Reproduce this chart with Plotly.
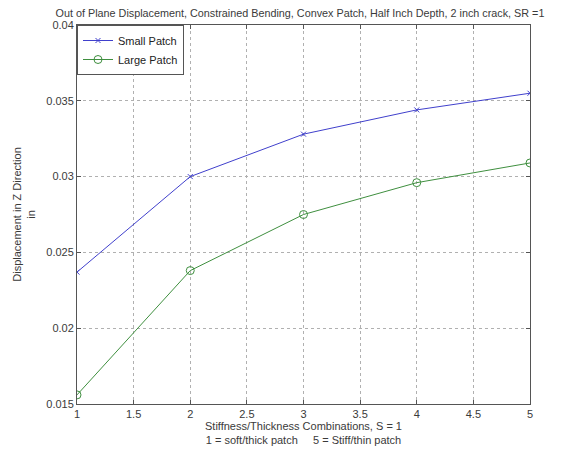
import plotly.graph_objects as go

x_vals = [1, 2, 3, 4, 5]
small_patch = [0.0237, 0.0300, 0.0328, 0.0344, 0.0355]
large_patch = [0.0156, 0.0238, 0.0275, 0.0296, 0.0309]
x_ticks = [1, 1.5, 2, 2.5, 3, 3.5, 4, 4.5, 5]
x_tick_labels = ["1", "1.5", "2", "2.5", "3", "3.5", "4", "4.5", "5"]
y_ticks = [0.015, 0.02, 0.025, 0.03, 0.035, 0.04]
y_tick_labels = ["0.015", "0.02", "0.025", "0.03", "0.035", "0.04"]

font = "Liberation Sans, Arial, sans-serif"
txt = "#3a3a3a"

fig = go.Figure()
fig.add_trace(go.Scatter(
    x=x_vals, y=small_patch, name="Small Patch", mode="lines+markers",
    line=dict(color="#4040cc", width=1),
    marker=dict(symbol="x-thin", size=5, line=dict(color="#4040cc", width=1)),
))
fig.add_trace(go.Scatter(
    x=x_vals, y=large_patch, name="Large Patch", mode="lines+markers",
    line=dict(color="#3f8f3f", width=1),
    marker=dict(symbol="circle-open", size=8, color="#3f8f3f", line=dict(width=1)),
))

axis_common = dict(
    showline=True, linecolor="#555555", linewidth=1, mirror="ticks",
    ticks="inside", ticklen=4, tickcolor="#555555",
    showgrid=True, gridcolor="#b0b0b0", griddash="dot", gridwidth=1,
    zeroline=False, automargin=False,
    tickfont=dict(family=font, size=11, color=txt),
)

fig.update_layout(
    width=563, height=455,
    margin=dict(l=69, r=41, t=17, b=59),
    paper_bgcolor="white", plot_bgcolor="white",
    font=dict(family=font, size=11, color=txt),
    title=dict(
        text="Out of Plane Displacement, Constrained Bending, Convex Patch, Half Inch Depth, 2 inch crack, SR =1",
        x=292 / 563, xanchor="center", y=1.0, yanchor="top", pad=dict(t=1),
        font=dict(family=font, size=10.8, color=txt),
    ),
    xaxis=dict(
        range=[1, 5], tickvals=x_ticks, ticktext=x_tick_labels,
        title=dict(text="Stiffness/Thickness Combinations, S = 1<br>1 = soft/thick patch     5 = Stiff/thin patch",
                   standoff=2, font=dict(family=font, size=11, color=txt)),
        **axis_common,
    ),
    yaxis=dict(
        range=[0.015, 0.04], tickvals=y_ticks, ticktext=y_tick_labels,
        title=dict(text="Displacement in Z Direction<br>in", standoff=8,
                   font=dict(family=font, size=11, color=txt)),
        **axis_common,
    ),
    legend=dict(
        x=0.0, y=1.0, xanchor="left", yanchor="top",
        bgcolor="white", bordercolor="#555555", borderwidth=1,
        font=dict(family=font, size=11, color="#222222"),
        tracegroupgap=0,
    ),
    showlegend=True,
)

fig.write_html("out.html")
